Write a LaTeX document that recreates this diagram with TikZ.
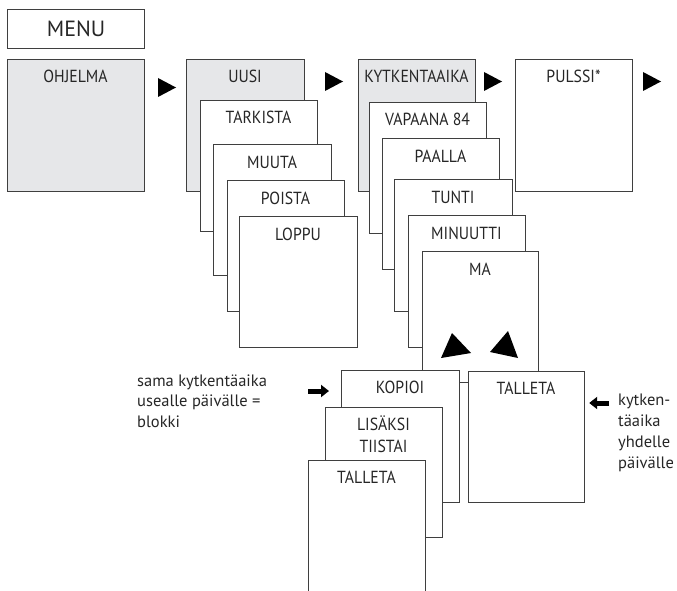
\documentclass[tikz,border=0pt]{standalone}
\usepackage{fontspec}
\setmainfont{PT Sans}
\newfontfamily\boxfont[FakeStretch=0.9]{PT Sans}
\usetikzlibrary{arrows.meta}
\definecolor{linec}{HTML}{3F3F3F}
\definecolor{boxgray}{HTML}{E6E7E9}
\tikzset{
  x=1pt, y=-1pt,
  menubox/.style={draw=linec, line width=1.2pt, fill=white, inner sep=0pt, anchor=north west},
  grayfill/.style={fill=boxgray},
  boxlabel/.style={inner sep=0pt, anchor=base, font=\boxfont\fontsize{17.5}{22}\selectfont, text=black!85},
  note/.style={inner sep=0pt, anchor=base west, align=left, font=\fontsize{16.5}{20.5}\selectfont, text=black!85},
  navtri/.style={fill=black},
  blockarrow/.style={draw=black, line width=5pt, -{Triangle[length=8pt, width=12pt]}},
}
\newcommand{\menubx}[6]{% name, x1, y1, x2, y2, style
  \node[menubox, #6, minimum width=#4pt-#2pt, minimum height=#5pt-#3pt] (#1) at (#2,#3) {};}
\begin{document}
\begin{tikzpicture}
\useasboundingbox (0,0) rectangle (677,591);
\clip (0,0) rectangle (677,591);
% MENU
\menubx{menu}{7}{9}{144}{48}{}
\node[inner sep=0pt, font=\fontsize{22}{26}\selectfont, text=black!85] (menut) at (menu.center) {MENU};
% column 1
\menubx{ohjelma}{7}{59}{144}{191}{grayfill}
\node[boxlabel] (ohjelmat) at (75.5,83) {OHJELMA};
% column 2
\menubx{uusi}{186}{59}{304}{191}{grayfill}
\node[boxlabel] (uusit) at (245,83) {UUSI};
\menubx{tarkista}{200}{100}{317}{231}{}
\node[boxlabel] (tarkistat) at (258.5,124) {TARKISTA};
\menubx{muuta}{213}{144}{331}{275}{}
\node[boxlabel] (muutat) at (272,168) {MUUTA};
\menubx{poista}{227}{180}{344}{311}{}
\node[boxlabel] (poistat) at (285.5,204) {POISTA};
\menubx{loppu}{239}{216}{357}{347}{}
\node[boxlabel] (lopput) at (298,240) {LOPPU};
% column 3
\menubx{kytk}{358}{59}{475}{191}{grayfill}
\node[boxlabel] (kytkt) at (416.5,83) {KYTKENTAAIKA};
\menubx{vapaana}{369}{102}{486}{233}{}
\node[boxlabel] (vapaanat) at (427.5,126) {VAPAANA 84};
\menubx{paalla}{382}{138}{499}{269}{}
\node[boxlabel] (paallat) at (440.5,162) {PAALLA};
\menubx{tunti}{394}{179}{512}{311}{}
\node[boxlabel] (tuntit) at (453,203) {TUNTI};
\menubx{minuutti}{408}{215}{525}{347}{}
\node[boxlabel] (minuuttit) at (466.5,239) {MINUUTTI};
\menubx{ma}{422}{251}{538}{382}{}
\node[boxlabel] (mat) at (480,275) {MA};
\fill[navtri] (452,333) -- (441,358) -- (471,353) -- cycle;
\fill[navtri] (508,331) -- (490,352) -- (518,358) -- cycle;
% lower group
\menubx{talletar}{468}{371}{584}{502}{}
\node[boxlabel] (talletart) at (526,394) {TALLETA};
\menubx{kopioi}{341}{370}{459}{502}{}
\node[boxlabel] (kopioit) at (400,393) {KOPIOI};
\menubx{lisaksi}{325}{407}{442}{537}{}
\node[boxlabel, align=center] (lisaksit) at (383.5,452) {LISÄKSI\\TIISTAI};
\menubx{talletal}{308}{460}{425}{620}{}
\node[boxlabel] (talletalt) at (366.5,483) {TALLETA};
% column 4
\menubx{pulssi}{515}{59}{632}{191}{}
\node[boxlabel] (pulssit) at (573.5,83) {PULSSI*};
% navigation triangles
\fill[navtri] (158,78) -- (176,87.5) -- (158,97) -- cycle;
\fill[navtri] (325,72) -- (343,81.5) -- (325,91) -- cycle;
\fill[navtri] (484,72) -- (502,81.5) -- (484,91) -- cycle;
\fill[navtri] (643,72) -- (661,81.5) -- (643,91) -- cycle;
% annotations
\node[note] (noteleft) at (137,427) {sama kytkentäaika\\usealle päivälle =\\blokki};
\node[note, font=\fontsize{16.5}{21}\selectfont] (noteright) at (618,468) {kytken-\\täaika\\yhdelle\\päivälle};
\coordinate (la) at (308,391);
\coordinate (ra) at (609,403);
\draw[blockarrow] (la) -- ([xshift=-12pt]kopioi.west |- la);
\draw[blockarrow] (ra) -- ([xshift=4pt]talletar.east |- ra);
\end{tikzpicture}
\end{document}
